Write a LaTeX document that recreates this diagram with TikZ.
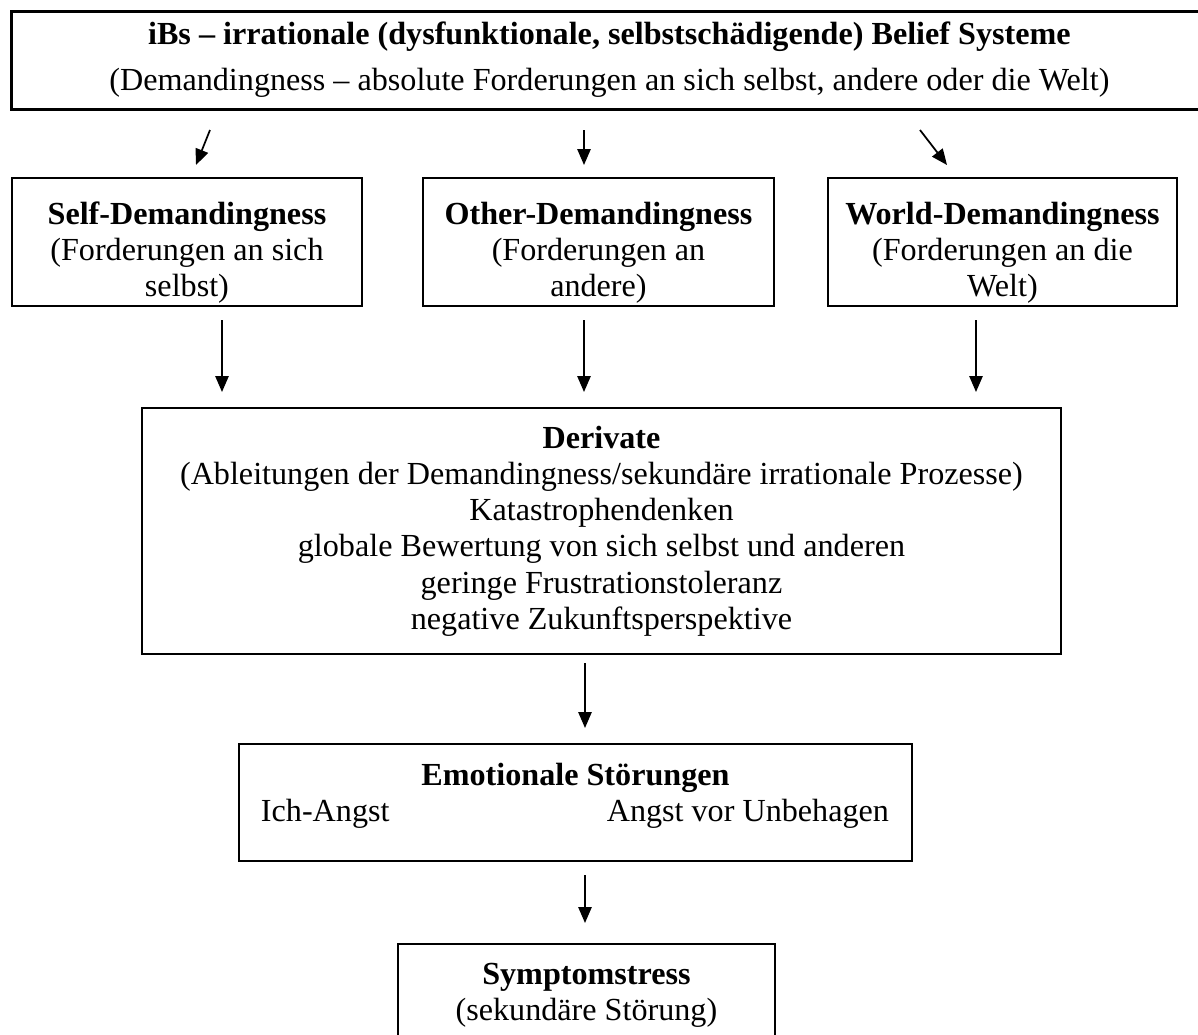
\documentclass[tikz,border=0pt]{standalone}
\usepackage{fontspec}
\setmainfont{Liberation Serif}
\usetikzlibrary{arrows.meta}

% one pixel of the layout
\newlength{\px}\setlength{\px}{0.02cm}
% fixed size text block: width, height, top padding, text
\newcommand{\boxtext}[4]{\parbox[c][#2\px][t]{#1\px}{\centering\vspace*{#3\px}#4}}

\begin{document}
\begin{tikzpicture}[x=0.02cm, y=-0.02cm,
	every node/.style={font=\fontsize{18.3}{20.6}\selectfont},
	box/.style={draw, line width=1.1pt, inner sep=0pt, anchor=north west},
	pfeil/.style={-{Triangle[length=9pt,width=7.5pt]}, line width=1pt}]
	
	% ---- (A) page ----
	\useasboundingbox (0,0) rectangle (1198,1035);
	\clip (0,0) rectangle (1198,1035);
	
	% ---- (B) boxes ----
	\node[box, line width=1.6pt] (ibs) at (10,10)
	{\boxtext{1196}{98}{10}{\textbf{iBs – irrationale (dysfunktionale, selbstschädigende) Belief Systeme}\\[10\px](Demandingness – absolute Forderungen an sich selbst, andere oder die Welt)}};
	
	\node[box] (self) at (11,177)
	{\boxtext{350}{128}{24}{\textbf{Self-Demandingness}\\(Forderungen an sich\\selbst)}};
	\node[box] (other) at (422,177)
	{\boxtext{351}{128}{24}{\textbf{Other-Demandingness}\\(Forderungen an\\andere)}};
	\node[box] (world) at (827,177)
	{\boxtext{349}{128}{24}{\textbf{World-Demandingness}\\(Forderungen an die\\Welt)}};
	
	\node[box] (derivate) at (141,407)
	{\boxtext{919}{246}{18}{\textbf{Derivate}\\(Ableitungen der Demandingness/sekundäre irrationale Prozesse)\\Katastrophendenken\\globale Bewertung von sich selbst und anderen\\geringe Frustrationstoleranz\\negative Zukunftsperspektive}};
	
	\node[box] (emotion) at (238,743)
	{\boxtext{673}{117}{19}{\textbf{Emotionale Störungen}\\\makebox[\linewidth]{\hspace*{22\px}Ich-Angst\hfill Angst vor Unbehagen\hspace*{23\px}}}};
	
	\node[box] (symptom) at (397,943)
	{\boxtext{377}{130}{19}{\textbf{Symptomstress}\\(sekundäre Störung)}};
	
	% ---- (C) arrows (free ends) ----
	\coordinate (a1) at (210,130); \coordinate (b1) at (196,165);
	\coordinate (a2) at (584,130); \coordinate (b2) at (584,165);
	\coordinate (a3) at (920,130); \coordinate (b3) at (947,165);
	\coordinate (a4) at (222,320); \coordinate (b4) at (222,392);
	\coordinate (a5) at (584,320); \coordinate (b5) at (584,392);
	\coordinate (a6) at (976,320); \coordinate (b6) at (976,392);
	\coordinate (a7) at (585,663); \coordinate (b7) at (585,728);
	\coordinate (a8) at (585,875); \coordinate (b8) at (585,923);
	
	\foreach \i in {1,...,8}{
		\draw[pfeil] (a\i) -- (b\i);
	}
	
\end{tikzpicture}
\end{document}
